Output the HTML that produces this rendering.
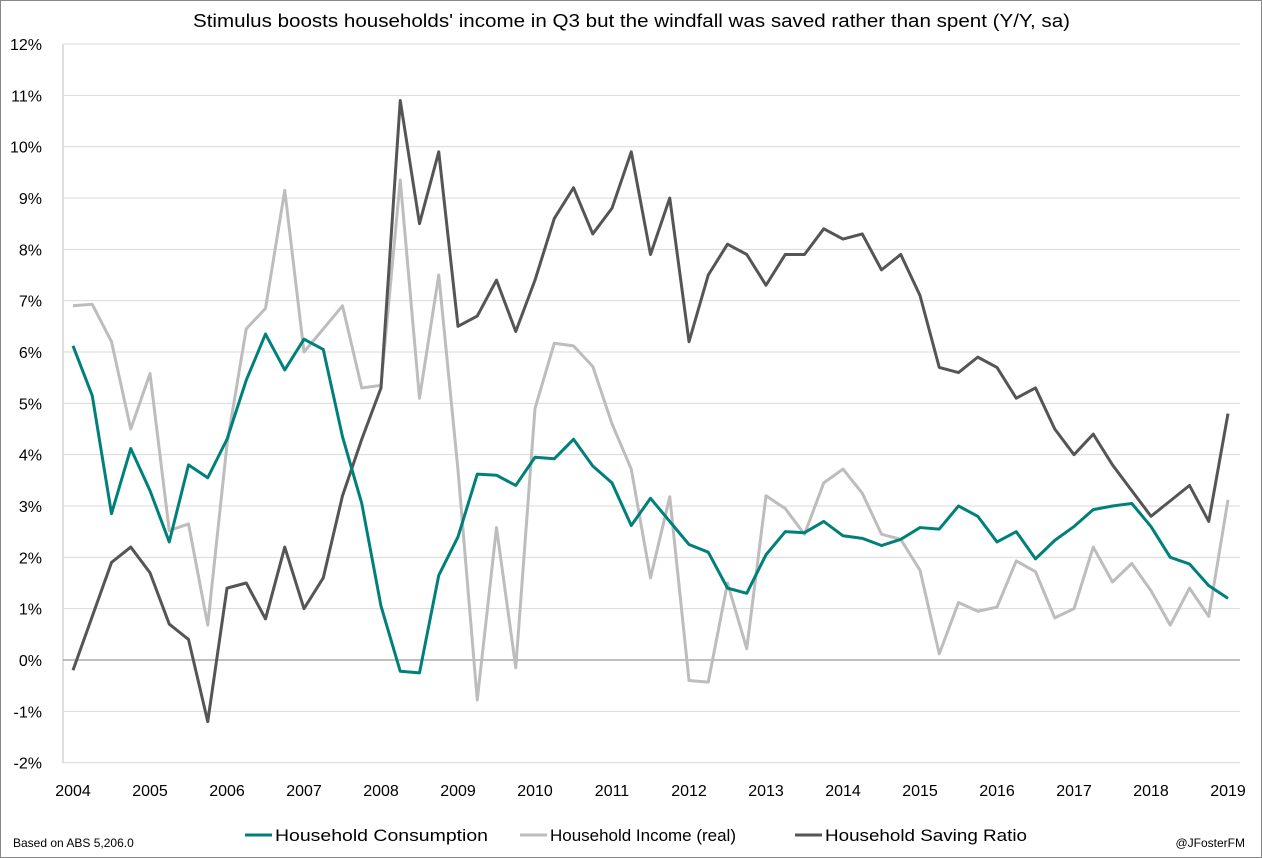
<!DOCTYPE html>
<html><head><meta charset="utf-8"><style>
html,body{margin:0;padding:0;background:#fff}
svg{display:block;font-family:"Liberation Sans",sans-serif}
</style></head><body>
<svg id="c" width="1262" height="858">
<rect x="0.5" y="0.5" width="1261" height="857" fill="#fff" stroke="#888"/>
<text x="193" y="27" font-size="18" textLength="877" lengthAdjust="spacingAndGlyphs" fill="#000">Stimulus boosts households' income in Q3 but the windfall was saved rather than spent (Y/Y, sa)</text>
<g id="grid"></g><g id="series"></g>
<g>
<line x1="245" y1="835" x2="272" y2="835" stroke="#00807a" stroke-width="3"/>
<text x="275" y="841" font-size="17" textLength="213" lengthAdjust="spacingAndGlyphs">Household Consumption</text>
<line x1="520" y1="835" x2="547" y2="835" stroke="#bdbdbd" stroke-width="3"/>
<text x="550" y="841" font-size="17" textLength="186" lengthAdjust="spacingAndGlyphs">Household Income (real)</text>
<line x1="795" y1="835" x2="822" y2="835" stroke="#555" stroke-width="3"/>
<text x="825" y="841" font-size="17" textLength="202" lengthAdjust="spacingAndGlyphs">Household Saving Ratio</text>
</g>
<text x="13" y="847" font-size="12">Based on ABS 5,206.0</text>
<text x="1245" y="847" font-size="12" text-anchor="end">@JFosterFM</text>
</svg>
<script>
const yTicks=[-2,-1,0,1,2,3,4,5,6,7,8,9,10,11,12];
const years=[2004,2005,2006,2007,2008,2009,2010,2011,2012,2013,2014,2015,2016,2017,2018,2019];
const consumption=[6.12,5.15,2.85,4.12,3.3,2.3,3.8,3.55,4.3,5.45,6.35,5.65,6.25,6.05,4.35,3.05,1.05,-0.22,-0.25,1.65,2.4,3.62,3.6,3.4,3.95,3.92,4.3,3.78,3.45,2.62,3.15,2.7,2.25,2.1,1.4,1.3,2.05,2.5,2.48,2.7,2.42,2.37,2.23,2.35,2.58,2.55,3.0,2.8,2.3,2.5,1.97,2.33,2.6,2.93,3.0,3.05,2.6,2.0,1.87,1.45,1.2];
const income=[6.9,6.93,6.2,4.5,5.58,2.52,2.65,0.68,4.2,6.45,6.85,9.15,6.0,6.45,6.9,5.3,5.35,9.35,5.1,7.5,3.7,-0.78,2.58,-0.15,4.9,6.17,6.12,5.72,4.6,3.72,1.6,3.18,-0.4,-0.43,1.5,0.22,3.2,2.95,2.45,3.45,3.72,3.25,2.45,2.35,1.75,0.12,1.12,0.95,1.03,1.93,1.72,0.82,1.0,2.2,1.52,1.88,1.35,0.68,1.4,0.85,3.12];
const saving=[-0.2,0.85,1.9,2.2,1.7,0.7,0.4,-1.2,1.4,1.5,0.8,2.2,1.0,1.6,3.2,4.3,5.3,10.9,8.5,9.9,6.5,6.7,7.4,6.4,7.4,8.6,9.2,8.3,8.8,9.9,7.9,9.0,6.2,7.5,8.1,7.9,7.3,7.9,7.9,8.4,8.2,8.3,7.6,7.9,7.1,5.7,5.6,5.9,5.7,5.1,5.3,4.5,4.0,4.4,3.8,3.3,2.8,3.1,3.4,2.7,4.8];
const NS='http://www.w3.org/2000/svg';
const L=63,R=1240,T=44,B=763,X0=73,X1=1228;
const y=v=>660-v*(660-T)/12;
const xq=i=>X0+i*(X1-X0)/60;
const xy=yr=>X0+(yr-2004)*(X1-X0)/15;
const grid=document.getElementById('grid'),ser=document.getElementById('series');
function mk(tag,attrs,parent){const e=document.createElementNS(NS,tag);for(const k in attrs)e.setAttribute(k,attrs[k]);parent.appendChild(e);return e;}
const ax=mk('line',{x1:L,y1:T,x2:L,y2:B,stroke:'#bfbfbf'},grid);


yTicks.forEach(t=>{
 const g=mk('line',{x1:L,y1:y(t),x2:R,y2:y(t),stroke:t===0?'#7f7f7f':'#d9d9d9'},grid);
 
 
 const tx=mk('text',{x:42,y:y(t)+6,'text-anchor':'end','font-size':16},grid);
 tx.textContent=t+'%';
 
 
});
years.forEach(yr=>{
 const tx=mk('text',{x:xy(yr),y:796,'text-anchor':'middle','font-size':16},grid);
 tx.textContent=yr;
 
 
});
function line(data,color,name){
 const p=mk('polyline',{points:data.map((v,i)=>xq(i)+','+y(v)).join(' '),fill:'none',stroke:color,'stroke-width':3,'stroke-linejoin':'round'},ser);
 
 
}
line(income,'#bdbdbd','income-line');
line(saving,'#555555','saving-ratio-line');
line(consumption,'#00807a','consumption-line');
</script>
</body></html>
